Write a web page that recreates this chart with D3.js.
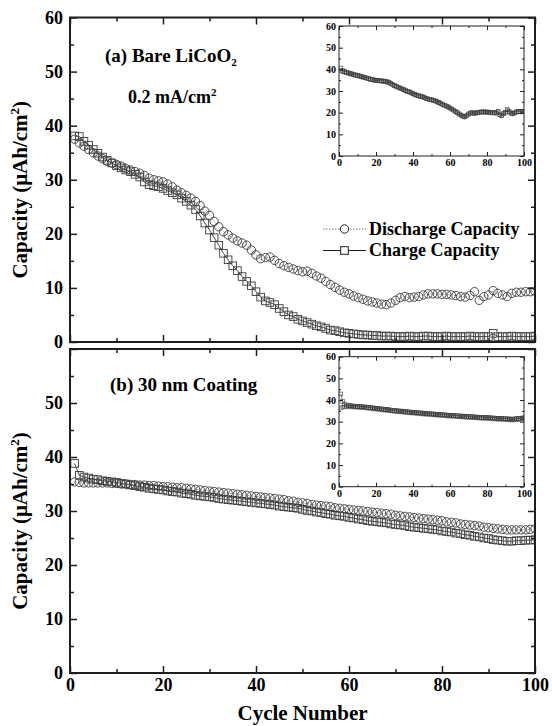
<!DOCTYPE html>
<html><head><meta charset="utf-8">
<script src="https://cdn.jsdelivr.net/npm/d3@7"></script>
<style>
body{margin:0;background:#fff}
svg{display:block}
text{font-family:"Liberation Serif","Times New Roman",serif;font-weight:bold;fill:#000}
</style>
</head><body>
<svg id="c" width="552" height="726"></svg>
<script>
// ---------- DATA ----------
const cycles = d3.range(1, 101);
const xTicksMajor = [0, 20, 40, 60, 80, 100];
const xTicksMinor = [10, 30, 50, 70, 90];
const yTicksMajor = [0, 10, 20, 30, 40, 50, 60];
const yTicksMinor = [5, 15, 25, 35, 45, 55];
const yLabelsA = [0, 10, 20, 30, 40, 50, 60];
const yLabelsB = [0, 10, 20, 30, 40, 50];

// (a) Bare LiCoO2 – main panel
const aDischarge = [
37.5,36.8,36.2,35.6,35.0,34.4,33.9,33.4,33.1,32.8,
32.5,32.1,31.8,31.5,31.2,30.8,30.3,30.0,29.8,29.6,
29.2,28.7,28.1,27.6,27.1,26.6,26.0,25.2,24.2,23.4,
22.3,21.3,20.4,19.8,19.2,18.7,18.3,17.9,17.0,16.1,
15.4,15.6,15.7,15.1,14.5,14.1,13.8,13.5,13.2,13.0,
13.1,12.7,12.2,11.8,11.2,10.6,10.1,9.6,9.2,8.9,
8.5,8.2,7.9,7.6,7.4,7.2,7.0,6.9,7.2,7.7,
8.2,8.4,8.2,8.3,8.4,8.7,8.9,8.9,8.9,8.8,
8.8,8.7,8.6,8.4,8.3,8.6,9.3,7.7,8.4,8.7,
9.5,9.0,8.7,8.4,9.0,9.2,9.2,9.3,9.3,9.4];
const aCharge = [
38.1,38.0,37.1,36.4,35.6,34.9,34.2,33.6,33.1,32.6,
32.2,31.8,31.5,31.0,30.5,29.6,29.1,28.9,28.7,28.4,
28.0,27.6,27.2,26.6,26.0,25.3,24.5,23.3,22.0,20.7,
19.3,17.9,16.4,15.2,14.1,13.2,12.1,11.2,10.4,9.3,
8.3,7.6,7.3,6.9,6.2,5.6,5.0,4.7,4.2,3.9,
3.6,3.3,3.0,2.8,2.5,2.2,2.1,1.9,1.7,1.6,
1.5,1.4,1.3,1.3,1.2,1.2,1.1,1.1,1.1,1.0,
1.0,1.0,1.1,1.0,1.0,1.1,1.1,1.0,1.0,1.0,
1.1,1.0,1.0,1.0,1.0,1.1,1.0,1.0,1.0,1.0,
1.6,1.0,1.0,1.0,1.1,1.0,1.0,1.0,1.0,1.1];

// (a) inset
const aInsetDischarge = [
39.2,38.9,38.6,38.4,38.1,37.9,37.6,37.4,37.2,37.0,
36.8,36.5,36.3,36.1,35.8,35.6,35.3,35.1,34.9,34.8,
34.7,34.6,34.5,34.4,34.3,34.1,33.8,33.4,32.9,32.4,
32.0,31.6,31.2,30.8,30.5,30.1,29.7,29.4,29.0,28.6,
28.3,27.9,27.7,27.4,27.3,26.9,26.5,26.2,26.0,25.8,
25.6,25.3,24.9,24.5,24.1,23.7,23.3,22.9,22.5,22.0,
21.5,21.0,20.4,19.8,19.2,18.7,18.2,17.9,18.4,19.2,
19.7,19.8,19.6,19.7,19.9,20.0,20.2,20.2,20.1,20.2,
20.0,19.9,20.0,19.8,19.7,20.3,18.8,18.5,19.4,20.0,
21.2,20.3,19.6,19.4,19.8,20.2,20.4,20.3,20.5,20.4];
const aInsetCharge = [
40.6,39.6,39.0,38.7,38.4,38.1,37.9,37.6,37.4,37.2,
37.0,36.7,36.5,36.2,36.0,35.8,35.5,35.3,35.1,35.0,
34.9,34.8,34.7,34.6,34.5,34.3,34.0,33.6,33.1,32.6,
32.2,31.8,31.4,31.0,30.7,30.3,29.9,29.6,29.2,28.8,
28.5,28.1,27.9,27.6,27.4,27.1,26.7,26.4,26.2,26.0,
25.8,25.5,25.1,24.7,24.3,23.9,23.5,23.1,22.7,22.2,
21.7,21.2,20.6,20.0,19.4,18.9,18.4,18.1,18.6,19.4,
19.9,20.0,19.8,19.9,20.1,20.2,20.4,20.4,20.3,20.4,
20.2,20.1,20.2,20.0,19.9,20.5,19.0,18.7,19.6,20.2,
21.4,20.5,19.8,19.6,20.0,20.4,20.6,20.5,20.7,20.6];

// (b) 30 nm coating – main panel
const bDischarge = [
35.4,35.3,35.2,35.2,35.2,35.2,35.2,35.2,35.1,35.1,
35.0,35.0,34.9,34.9,34.8,34.8,34.7,34.7,34.6,34.5,
34.5,34.4,34.3,34.3,34.2,34.1,34.0,33.9,33.8,33.7,
33.6,33.5,33.4,33.3,33.2,33.1,33.0,32.9,32.8,32.7,
32.6,32.5,32.4,32.3,32.2,32.1,31.9,31.8,31.6,31.5,
31.4,31.2,31.1,31.0,30.9,30.8,30.6,30.5,30.4,30.3,
30.2,30.1,30.0,29.9,29.8,29.7,29.6,29.5,29.4,29.2,
29.1,29.0,28.9,28.8,28.7,28.6,28.5,28.4,28.3,28.2,
28.0,27.9,27.8,27.6,27.5,27.4,27.3,27.2,27.0,26.9,
26.8,26.7,26.6,26.5,26.5,26.5,26.5,26.5,26.6,26.7];
const bCharge = [
38.8,36.6,36.3,36.1,35.9,35.8,35.6,35.5,35.4,35.3,
35.1,35.0,34.8,34.7,34.5,34.4,34.2,34.1,34.0,33.9,
33.7,33.6,33.5,33.3,33.2,33.1,32.9,32.8,32.7,32.6,
32.5,32.3,32.2,32.1,32.0,31.9,31.8,31.7,31.6,31.5,
31.4,31.3,31.2,31.1,30.9,30.8,30.7,30.6,30.5,30.3,
30.1,30.0,29.8,29.7,29.5,29.4,29.2,29.1,29.0,28.8,
28.7,28.5,28.4,28.2,28.1,28.0,27.9,27.8,27.6,27.5,
27.4,27.3,27.1,27.0,26.9,26.8,26.7,26.6,26.5,26.3,
26.2,26.1,25.9,25.8,25.6,25.5,25.3,25.2,25.0,24.9,
24.7,24.6,24.5,24.4,24.4,24.5,24.5,24.6,24.6,24.7];

// (b) inset
const bInsetDischarge = [
36.4,36.6,36.8,36.9,36.9,36.9,36.8,36.8,36.7,36.7,
36.6,36.5,36.5,36.4,36.3,36.2,36.1,36.0,35.9,35.8,
35.7,35.6,35.5,35.4,35.3,35.2,35.1,35.0,34.9,34.8,
34.7,34.6,34.5,34.5,34.4,34.3,34.2,34.1,34.0,34.0,
33.9,33.8,33.7,33.7,33.6,33.5,33.4,33.4,33.3,33.2,
33.2,33.1,33.0,33.0,32.9,32.8,32.8,32.7,32.6,32.6,
32.5,32.5,32.4,32.3,32.3,32.2,32.2,32.1,32.0,32.0,
31.9,31.9,31.8,31.8,31.7,31.7,31.6,31.6,31.5,31.5,
31.4,31.4,31.3,31.3,31.2,31.2,31.1,31.1,31.0,31.0,
30.9,30.9,30.8,30.8,30.8,30.9,31.0,31.1,31.2,31.3];
const bInsetCharge = [
42.8,39.4,38.2,37.7,37.5,37.4,37.3,37.2,37.1,37.1,
37.0,36.9,36.9,36.8,36.7,36.6,36.5,36.4,36.3,36.2,
36.1,36.0,35.9,35.8,35.7,35.6,35.5,35.4,35.3,35.2,
35.1,35.0,34.9,34.9,34.8,34.7,34.6,34.5,34.4,34.4,
34.3,34.2,34.1,34.1,34.0,33.9,33.8,33.8,33.7,33.6,
33.6,33.5,33.4,33.4,33.3,33.2,33.2,33.1,33.0,33.0,
32.9,32.9,32.8,32.7,32.7,32.6,32.6,32.5,32.4,32.4,
32.3,32.3,32.2,32.2,32.1,32.1,32.0,32.0,31.9,31.9,
31.8,31.8,31.7,31.7,31.6,31.6,31.5,31.5,31.4,31.4,
31.3,31.3,31.2,31.2,31.3,31.4,31.5,31.6,31.7,31.8];

// ---------- DRAW ----------
const svg = d3.select("#c");
const INK = "#1e1e1e";
const MARK = "#3a3a3a";

function frame(g, x, y, o) {
  const [xa, xb] = x.range(), [ya, yb] = y.range();
  const mk = (axis, tr, vals, size, fmt, pad) => {
    const a = g.append("g").attr("transform", tr)
      .call(axis.tickValues(vals).tickSize(-size).tickSizeOuter(0).tickPadding(pad).tickFormat(fmt));
    a.select(".domain").remove();
    a.selectAll(".tick line").attr("stroke", INK).attr("stroke-width", o.tickW);
    a.selectAll("text").attr("font-size", o.fs).attr("fill", "#000")
      .style("font-family", '"Liberation Serif","Times New Roman",serif').style("font-weight", "bold");
    return a;
  };
  const none = () => "";
  mk(d3.axisBottom(x), `translate(0,${ya})`, o.xMaj, o.maj, o.xLab ? (d => d) : none, o.xPad);
  mk(d3.axisBottom(x), `translate(0,${ya})`, o.xMin, o.min, none, 0);
  mk(d3.axisTop(x), `translate(0,${yb})`, o.xMaj, o.maj, none, 0);
  mk(d3.axisTop(x), `translate(0,${yb})`, o.xMin, o.min, none, 0);
  mk(d3.axisLeft(y), `translate(${xa},0)`, o.yMaj, o.maj, d => o.yLab.includes(d) ? d : "", o.yPad);
  mk(d3.axisLeft(y), `translate(${xa},0)`, o.yMin, o.min, none, 0);
  mk(d3.axisRight(y), `translate(${xb},0)`, o.yMaj, o.maj, none, 0);
  mk(d3.axisRight(y), `translate(${xb},0)`, o.yMin, o.min, none, 0);
  g.append("rect").attr("x", xa).attr("y", yb).attr("width", xb - xa).attr("height", ya - yb)
    .attr("fill", "none").attr("stroke", INK).attr("stroke-width", o.frameW);
}

let clipId = 0;
function series(g, x, y, dis, chg, r, s, lw) {
  const [xa, xb] = x.range(), [ya, yb] = y.range();
  const id = "clip" + (clipId++);
  g.append("clipPath").attr("id", id).append("rect")
    .attr("x", xa).attr("y", yb).attr("width", xb - xa).attr("height", ya - yb);
  const p = g.append("g").attr("clip-path", `url(#${id})`);
  const line = d3.line().x((d, i) => x(cycles[i])).y(d => y(d));
  p.append("path").datum(chg).attr("d", line).attr("fill", "none")
    .attr("stroke", INK).attr("stroke-width", lw * 0.9);
  p.append("path").datum(dis).attr("d", line).attr("fill", "none")
    .attr("stroke", "#777").attr("stroke-width", lw * 0.8).attr("stroke-dasharray", "1.5,1.5");
  p.selectAll("rect.sq").data(chg).join("rect").attr("class", "sq")
    .attr("x", (d, i) => x(cycles[i]) - s / 2).attr("y", d => y(d) - s / 2)
    .attr("width", s).attr("height", s)
    .attr("fill", "none").attr("stroke", MARK).attr("stroke-width", lw);
  p.selectAll("circle").data(dis).join("circle")
    .attr("cx", (d, i) => x(cycles[i])).attr("cy", d => y(d)).attr("r", r)
    .attr("fill", "none").attr("stroke", MARK).attr("stroke-width", lw);
}

const X0 = 70, X1 = 535;
const xMain = d3.scaleLinear().domain([0, 100]).range([X0, X1]);
const xIn = d3.scaleLinear().domain([0, 100]).range([339, 524]);

const panels = [
  { top: 17.5, bot: 342, dis: aDischarge, chg: aCharge, yLab: yLabelsA, xLab: false,
    inTop: 26, inBot: 156, inDis: aInsetDischarge, inChg: aInsetCharge },
  { top: 349, bot: 673, dis: bDischarge, chg: bCharge, yLab: yLabelsB, xLab: true,
    inTop: 356.7, inBot: 486.7, inDis: bInsetDischarge, inChg: bInsetCharge }
];

panels.forEach(P => {
  const g = svg.append("g");
  const y = d3.scaleLinear().domain([0, 60]).range([P.bot, P.top]);
  series(g, xMain, y, P.dis, P.chg, 4.2, 7.6, 0.9);
  frame(g, xMain, y, { xMaj: xTicksMajor, xMin: xTicksMinor, yMaj: yTicksMajor, yMin: yTicksMinor,
    maj: 7, min: 4, fs: 18, xLab: P.xLab, yLab: P.yLab, xPad: 5, yPad: 7, tickW: 1.5, frameW: 2 });
  const gi = svg.append("g");
  const yi = d3.scaleLinear().domain([0, 60]).range([P.inBot, P.inTop]);
  gi.append("rect").attr("x", 339).attr("y", P.inTop).attr("width", 185).attr("height", P.inBot - P.inTop).attr("fill", "#fff");
  series(gi, xIn, yi, P.inDis, P.inChg, 2, 3.8, 0.6);
  frame(gi, xIn, yi, { xMaj: xTicksMajor, xMin: xTicksMinor, yMaj: yTicksMajor, yMin: yTicksMinor,
    maj: 4, min: 2, fs: 10, xLab: true, yLab: yLabelsA, xPad: 3, yPad: 3, tickW: 1, frameW: 1 });

  const cy = (P.top + P.bot) / 2 + 10;
  const t = svg.append("text").attr("transform", `translate(27,${cy}) rotate(-90)`)
    .attr("text-anchor", "middle").attr("font-size", 21);
  t.append("tspan").text("Capacity (μAh/cm");
  t.append("tspan").attr("font-size", 13).attr("dy", -8).text("2");
  t.append("tspan").attr("dy", 8).text(")");
});

svg.append("text").attr("x", (X0 + X1) / 2).attr("y", 720).attr("text-anchor", "middle")
  .attr("font-size", 21).text("Cycle Number");

const la = svg.append("text").attr("x", 105).attr("y", 62).attr("font-size", 19);
la.append("tspan").text("(a) Bare LiCoO");
la.append("tspan").attr("font-size", 11).attr("dy", 4).text("2");
const lb = svg.append("text").attr("x", 128).attr("y", 103).attr("font-size", 18);
lb.append("tspan").text("0.2 mA/cm");
lb.append("tspan").attr("font-size", 11).attr("dy", -7).text("2");
svg.append("text").attr("x", 110).attr("y", 391).attr("font-size", 19).text("(b) 30 nm Coating");

const lg = svg.append("g");
const legendRows = [
  { label: "Discharge Capacity", y: 229, type: "c" },
  { label: "Charge Capacity", y: 250.5, type: "s" }
];
legendRows.forEach(r => {
  lg.append("line").attr("x1", 323).attr("x2", 366).attr("y1", r.y).attr("y2", r.y)
    .attr("stroke", r.type === "c" ? "#777" : INK).attr("stroke-width", 1)
    .attr("stroke-dasharray", r.type === "c" ? "1.5,1.5" : null);
  if (r.type === "c") lg.append("circle").attr("cx", 344.5).attr("cy", r.y).attr("r", 4.2)
    .attr("fill", "#fff").attr("stroke", INK);
  else lg.append("rect").attr("x", 344.5 - 3.8).attr("y", r.y - 3.8).attr("width", 7.6).attr("height", 7.6)
    .attr("fill", "#fff").attr("stroke", INK);
  lg.append("text").attr("x", 369).attr("y", r.y + 5.5).attr("font-size", 18).text(r.label);
});
</script>
</body></html>
